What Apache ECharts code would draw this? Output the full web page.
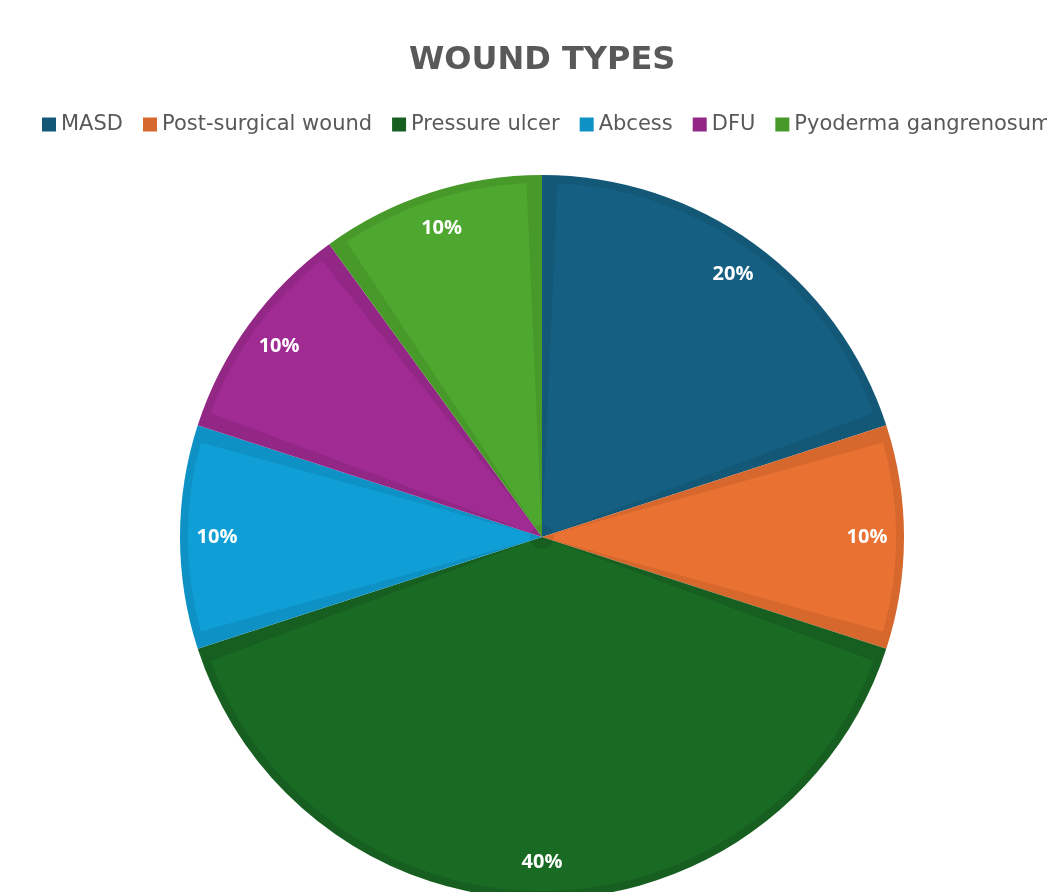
<!DOCTYPE html>
<html>
<head>
<meta charset="utf-8">
<script src="https://cdn.jsdelivr.net/npm/echarts@6/dist/echarts.min.js"></script>
<style>html,body{margin:0;padding:0;background:#fff;}#c{width:1047px;height:892px;}</style>
</head>
<body>
<div id="c"></div>
<script>
const title = 'WOUND TYPES';
const categories = ['MASD', 'Post-surgical wound', 'Pressure ulcer', 'Abcess', 'DFU', 'Pyoderma gangrenosum'];
const values = [20, 10, 40, 10, 10, 10];
const fillColors = ['#156082', '#E97132', '#196B24', '#0F9ED5', '#A02B93', '#4EA72E'];
const borderColors = ['#135877', '#D6672D', '#175F20', '#0E91C4', '#922786', '#479A2A'];

const chart = echarts.init(document.getElementById('c'), null, {renderer: 'canvas'});
const fontFam = '"DejaVu Sans", "Open Sans", sans-serif';
const labelFont = '"Open Sans", "DejaVu Sans", sans-serif';
const outerData = categories.map((n, i) => ({name: n, value: values[i], itemStyle: {color: borderColors[i]}}));
const innerData = categories.map((n, i) => ({name: n, value: values[i], itemStyle: {color: fillColors[i]}}));
const labelData = categories.map((n, i) => ({name: n, value: values[i]}));
const common = {type: 'pie', center: [542, 537], startAngle: 90, clockwise: true, silent: true};
chart.setOption({
  animation: false,
  color: fillColors,
  title: {
    text: title, left: 404, top: 40,
    textStyle: {fontFamily: fontFam, fontSize: 32, fontWeight: 'bold', color: '#595959'}
  },
  legend: {
    left: 37, top: 109, width: 2000,
    itemWidth: 14, itemHeight: 14, itemGap: 20,
    icon: 'rect',
    data: categories,
    textStyle: {fontFamily: fontFam, fontSize: 21, color: '#595959'}
  },
  series: [Object.assign({}, common, {
    radius: [0, 362],
    label: {show: false}, labelLine: {show: false},
    data: outerData
  }), Object.assign({}, common, {
    radius: [12, 354],
    padAngle: 5,
    label: {show: false}, labelLine: {show: false},
    data: innerData
  }), Object.assign({}, common, {
    radius: [282, 362],
    itemStyle: {color: 'rgba(0,0,0,0)', borderWidth: 0},
    label: {
      show: true, position: 'inside', formatter: '{c}%',
      color: '#ffffff', fontFamily: labelFont, fontWeight: 'bold', fontSize: 20
    },
    labelLine: {show: false},
    data: labelData
  })]
});
</script>
</body>
</html>
